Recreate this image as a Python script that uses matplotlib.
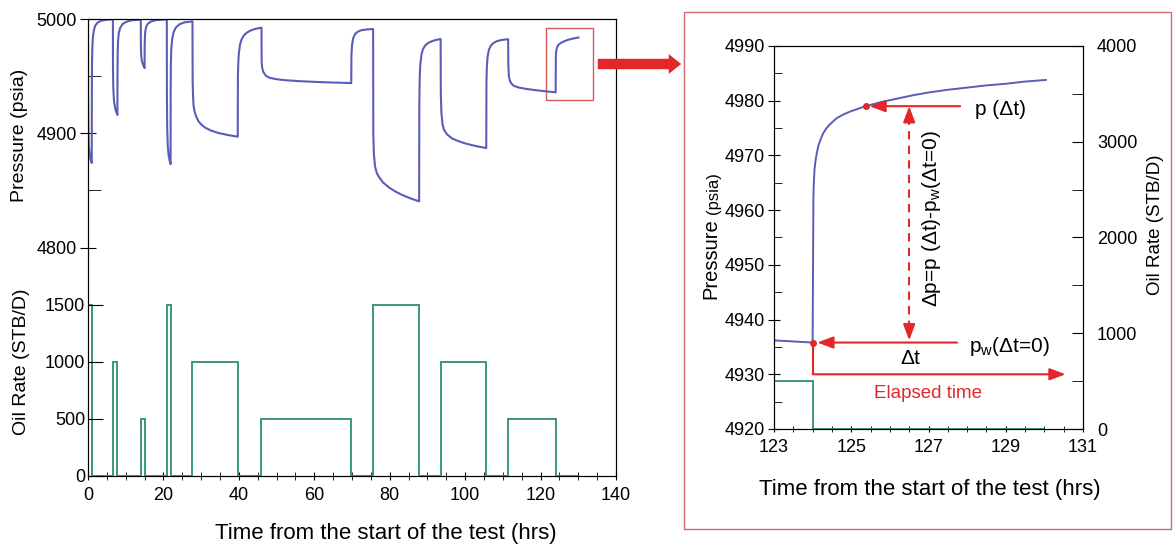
import matplotlib
matplotlib.use("Agg")
import matplotlib.pyplot as plt
from matplotlib.patches import Rectangle, FancyArrowPatch
from matplotlib.ticker import MultipleLocator

plt.rcParams['font.family'] = ['Liberation Sans', 'DejaVu Sans']
plt.rcParams['mathtext.fontset'] = 'custom'
plt.rcParams['mathtext.rm'] = 'Liberation Sans'

# pressure history (hrs, psia)
pressure_t = [
    0, 0.02, 0.08, 0.2, 0.45, 0.7, 1.0,                                   # flow 1
    1.02, 1.06, 1.15, 1.3, 1.55, 1.9, 2.5, 3.5, 5, 6.6,                   # build-up
    6.62, 6.7, 6.9, 7.3, 7.8,                                             # flow 2
    7.82, 7.87, 7.97, 8.15, 8.5, 9.1, 10, 11.5, 14,
    14.02, 14.1, 14.3, 14.6, 15,                                          # flow 3
    15.02, 15.08, 15.2, 15.45, 15.9, 16.7, 18, 20.9,
    20.92, 21.0, 21.15, 21.4, 21.65, 21.9,                                # flow 4
    21.92, 21.97, 22.08, 22.3, 22.7, 23.3, 24.2, 25.5, 27.7,
    27.75, 27.85, 28.0, 28.3, 28.7, 29.3, 30.0, 31, 32.5, 34.5, 37, 39.7,  # flow 5
    39.75, 39.85, 40.0, 40.3, 40.7, 41.3, 42, 43, 44.3, 46,
    46.05, 46.2, 46.5, 47.2, 48.2, 49.8, 52, 56, 62, 69.8,                # flow 6
    69.85, 70.0, 70.3, 70.8, 71.5, 72.5, 74, 75.6,
    75.65, 75.8, 76.1, 76.6, 77.2, 78.2, 79.8, 81.5, 83.3, 85.5, 87.8,    # flow 7
    87.85, 87.95, 88.1, 88.4, 88.8, 89.4, 90.2, 91.2, 92.3, 93.5,
    93.55, 93.7, 94.0, 94.4, 95.2, 96.6, 98.3, 100.1, 102.8, 105.6,       # flow 8
    105.65, 105.75, 105.95, 106.3, 106.8, 107.5, 108.5, 109.8, 111.4,
    111.45, 111.6, 111.9, 112.4, 112.9, 114.2, 116, 118, 120, 123, 124.0,  # flow 9
    124.01, 124.02, 124.03, 124.05, 124.08, 124.11, 124.15, 124.2,        # final build-up
    124.27, 124.35, 124.45, 124.62, 124.8, 125.0, 125.37, 125.8, 126.2,
    126.6, 127.0, 127.5, 128.0, 128.5, 129.0, 129.5, 130.04,
]
pressure_p = [
    5000, 4935, 4905, 4890, 4881, 4877, 4874,
    4935, 4960, 4975, 4984, 4990, 4994, 4996.8, 4998.5, 4999.4, 4999.7,
    4960, 4940, 4928, 4920.5, 4916,
    4950, 4970, 4981, 4987.5, 4992, 4995.3, 4997.4, 4998.8, 4999.5,
    4978, 4968, 4963, 4960, 4957,
    4975, 4984, 4989.5, 4993.5, 4996, 4997.8, 4999, 4999.7,
    4935, 4905, 4889, 4880, 4876, 4873,
    4935, 4960, 4973, 4982, 4988.5, 4992.5, 4995.3, 4997, 4998,
    4945, 4932, 4924, 4918.5, 4914.6, 4910.5, 4907.8, 4905, 4902.5, 4900.3, 4898.5, 4897,
    4950, 4962, 4970, 4977.5, 4982, 4985.5, 4987.8, 4989.8, 4991.3, 4992.4,
    4962, 4957, 4953.5, 4950.2, 4948.5, 4947.4, 4946.5, 4945.6, 4944.7, 4943.9,
    4968, 4977, 4983, 4986.8, 4988.8, 4990.2, 4990.9, 4991.2,
    4900, 4882, 4871, 4865, 4861.5, 4857, 4852.6, 4849, 4846, 4843, 4840.4,
    4925, 4948, 4960, 4968.5, 4973.5, 4976.8, 4979, 4980.6, 4981.7, 4982.5,
    4935, 4918, 4908, 4903, 4899, 4895.3, 4893, 4891, 4888.8, 4887,
    4945, 4958, 4967, 4973, 4976.6, 4979, 4980.7, 4981.7, 4982.3,
    4960, 4950, 4945.5, 4943, 4941.5, 4940, 4938.9, 4938, 4937.2, 4936.2, 4935.8,
    4950, 4962, 4965, 4967.5, 4969.3, 4970.5, 4971.8, 4972.8,
    4974.0, 4974.9, 4975.7, 4976.8, 4977.5, 4978.1, 4979.0, 4979.8, 4980.4,
    4981.0, 4981.5, 4982.0, 4982.4, 4982.8, 4983.1, 4983.5, 4983.8,
]

# oil rate schedule (STB/D) between time edges (hrs)
rate_edges = [0, 1, 6.6, 7.8, 14, 15, 20.9, 21.9, 27.7, 39.7, 46, 69.8,
              75.6, 87.8, 93.5, 105.6, 111.4, 124, 130]
rate_values = [1500, 0, 1000, 0, 500, 0, 1500, 0, 1000, 0, 500, 0,
               1500, 0, 1000, 0, 500, 0]

# marked points of the last build-up
t_shutin = 124.0
pw_dt0 = 4935.8
t_dt = 125.37
p_dt = 4979.0

BLUE = '#5a5db8'
GREEN = '#3a9878'
RED = '#e3262a'
W, H = 1173, 545
TICK_FS = 13

fig = plt.figure(figsize=(W / 100, H / 100), dpi=100)

# ---- left: full test ----
ax = fig.add_axes([88 / W, 1 - 476 / H, (616 - 88) / W, (476 - 19) / H])
ax.plot(pressure_t, pressure_p, color=BLUE, lw=1.5)
ax.set_xlim(0, 140)
ax.set_ylim(4600, 5000)
ax.set_yticks([4800, 4900, 5000])
ax.set_yticks([4850, 4950], minor=True)
ax.set_xticks(range(0, 141, 20))
ax.xaxis.set_minor_locator(MultipleLocator(5))
ax.tick_params(axis='y', which='major', direction='inout', length=12, labelsize=TICK_FS, pad=2)
ax.tick_params(axis='y', which='minor', direction='in', length=9)
ax.tick_params(axis='x', which='both', direction='inout', length=6, labelsize=TICK_FS, pad=5)
ax.add_patch(Rectangle((121.5, 4929), 12.5, 63.4, fill=False, ec='#d65a5a', lw=1))

axr = ax.twinx()
axr.stairs(rate_values, rate_edges, baseline=0, color=GREEN, lw=1.4)
axr.set_ylim(0, 4000)
axr.yaxis.tick_left()
axr.set_yticks([0, 500, 1000, 1500])
axr.tick_params(axis='y', direction='in', length=11, labelsize=TICK_FS, pad=2)

fig.text(20 / W, 1 - 135 / H, 'Pressure (psia)', rotation=90, ha='center', va='center', fontsize=14)
fig.text(22 / W, 1 - 362 / H, 'Oil Rate (STB/D)', rotation=90, ha='center', va='center', fontsize=14)
fig.text(386 / W, 1 - 533 / H, 'Time from the start of the test (hrs)', ha='center', va='center', fontsize=16)

# ---- big arrow to the zoom ----
fig.add_artist(FancyArrowPatch((595 / W, 1 - 64 / H), (684 / W, 1 - 64 / H), transform=fig.transFigure,
                               arrowstyle='simple,tail_width=0.5,head_width=0.95,head_length=0.6',
                               mutation_scale=15, color=RED, lw=0))

# ---- right: zoom on last build-up ----
fig.add_artist(Rectangle((684 / W, 1 - 529 / H), (1171 - 684) / W, (529 - 12) / H,
                         transform=fig.transFigure, fill=False, ec='#d46a6a', lw=1))

axi = fig.add_axes([774 / W, 1 - 429 / H, (1083 - 774) / W, (429 - 46) / H])
axi.plot(pressure_t, pressure_p, color=BLUE, lw=1.4)
axi.set_xlim(123, 131)
axi.set_ylim(4920, 4990)
axi.set_xticks([123, 125, 127, 129, 131])
axi.xaxis.set_minor_locator(MultipleLocator(0.5))
axi.yaxis.set_major_locator(MultipleLocator(10))
axi.yaxis.set_minor_locator(MultipleLocator(5))
axi.tick_params(axis='y', which='major', direction='inout', length=9, labelsize=TICK_FS, pad=2)
axi.tick_params(axis='y', which='minor', direction='in', length=6)
axi.tick_params(axis='x', which='both', direction='inout', length=5, labelsize=TICK_FS, pad=5)

axir = axi.twinx()
axir.stairs(rate_values, rate_edges, baseline=0, color=GREEN, lw=1.4)
axir.set_ylim(0, 4000)
axir.yaxis.set_major_locator(MultipleLocator(1000))
axir.yaxis.set_minor_locator(MultipleLocator(500))
axir.tick_params(axis='y', which='both', direction='in', length=8, labelsize=TICK_FS, pad=10)

fig.text(711 / W, 1 - 259 / H, 'Pressure', rotation=90, ha='center', va='center', fontsize=14.5)
fig.text(714 / W, 1 - 193 / H, '(psia)', rotation=90, ha='center', va='center', fontsize=12)
fig.text(1156 / W, 1 - 225 / H, 'Oil Rate (STB/D)', rotation=90, ha='center', va='center', fontsize=13.5)
fig.text(930 / W, 1 - 489 / H, 'Time from the start of the test (hrs)', ha='center', va='center', fontsize=16)

# annotations
aprops = dict(arrowstyle='-|>,head_length=0.8,head_width=0.3', color=RED, lw=1.5,
              shrinkA=0, shrinkB=0, mutation_scale=12)
axi.plot([t_dt, t_shutin], [p_dt, pw_dt0], 'o', ms=4, color=RED, zorder=5)
axi.annotate('', xy=(t_dt + 0.1, p_dt), xytext=(127.82, p_dt), arrowprops=aprops)
axi.annotate('', xy=(t_shutin + 0.12, pw_dt0), xytext=(127.74, pw_dt0), arrowprops=aprops)
axi.text(128.2, p_dt - 0.6, 'p (Δt)', ha='left', va='center', fontsize=15)
axi.text(128.05, pw_dt0 - 0.8, r'p$_\mathregular{w}$(Δt=0)', ha='left', va='center', fontsize=15)

axi.plot([126.5, 126.5], [pw_dt0 + 2.5, p_dt - 2.5], color=RED, lw=1.5, ls=(0, (4, 3)))
axi.annotate('', xy=(126.5, p_dt), xytext=(126.5, p_dt - 3.0), arrowprops=aprops)
axi.annotate('', xy=(126.5, pw_dt0 + 0.4), xytext=(126.5, pw_dt0 + 3.4), arrowprops=aprops)
axi.text(127.08, 4958.5, r'Δp=p (Δt)-p$_\mathregular{w}$(Δt=0)', rotation=90,
         ha='center', va='center', fontsize=15)
axi.text(126.52, 4932.8, 'Δt', ha='center', va='center', fontsize=15)

axi.plot([t_shutin, t_shutin], [pw_dt0, 4930], color=RED, lw=1.5)
axi.annotate('', xy=(130.55, 4930), xytext=(t_shutin, 4930), arrowprops=aprops)
axi.text(127.0, 4926.4, 'Elapsed time', color=RED, ha='center', va='center', fontsize=13.5)

fig.savefig('out.png', dpi=100)
